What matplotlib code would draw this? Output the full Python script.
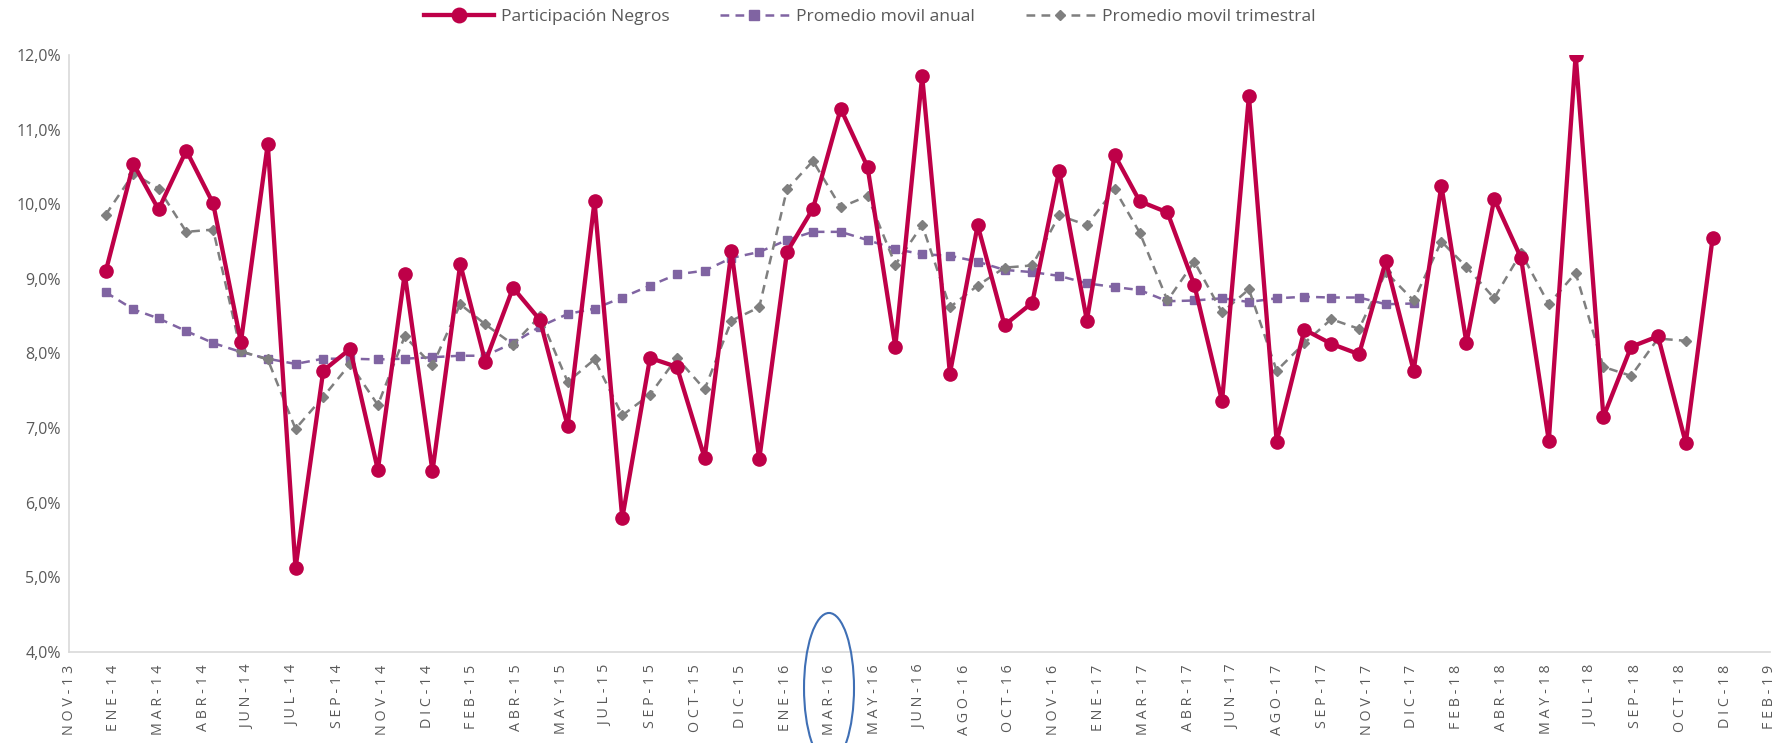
import numpy as np
import matplotlib.pyplot as plt
import matplotlib.dates as mdates
import pandas as pd
from matplotlib.patches import Ellipse

plt.rcParams['font.family'] = ['Open Sans', 'DejaVu Sans']

# datos mensuales ene-2014 .. dic-2018 (en %)
participacion = [9.10, 10.54, 9.93, 10.72, 10.01, 8.15, 10.81, 5.12, 7.77, 8.06,
                 6.44, 9.07, 6.42, 9.20, 7.89, 8.88, 8.45, 7.03, 10.04, 5.79,
                 7.94, 7.82, 6.60, 9.37, 6.58, 9.36, 9.94, 11.28, 10.50, 8.09,
                 11.72, 7.73, 9.72, 8.38, 8.68, 10.45, 8.44, 10.66, 10.04, 9.89,
                 8.92, 7.36, 11.45, 6.82, 8.32, 8.13, 7.99, 9.24, 7.77, 10.25,
                 8.14, 10.07, 9.28, 6.83, 12.00, 7.15, 8.09, 8.23, 6.80, 9.55]

prom_anual = [8.82, 8.59, 8.47, 8.30, 8.14, 8.02, 7.93, 7.86, 7.93, 7.93,
              7.92, 7.93, 7.95, 7.97, 7.97, 8.14, 8.36, 8.53, 8.60, 8.75,
              8.91, 9.06, 9.11, 9.28, 9.36, 9.52, 9.63, 9.63, 9.52, 9.40,
              9.33, 9.31, 9.23, 9.12, 9.09, 9.04, 8.94, 8.89, 8.85, 8.70,
              8.71, 8.74, 8.69, 8.74, 8.76, 8.75, 8.75, 8.66, 8.67]

prom_trimestral = [9.86, 10.41, 10.21, 9.63, 9.66, 8.03, 7.92, 6.99, 7.42, 7.86,
                   7.31, 8.23, 7.84, 8.66, 8.39, 8.12, 8.50, 7.62, 7.92, 7.17,
                   7.45, 7.94, 7.52, 8.44, 8.62, 10.20, 10.58, 9.96, 10.11, 9.19,
                   9.72, 8.62, 8.91, 9.15, 9.18, 9.85, 9.72, 10.20, 9.62, 8.71,
                   9.23, 8.55, 8.86, 7.77, 8.14, 8.46, 8.33, 9.09, 8.71, 9.50,
                   9.16, 8.74, 9.35, 8.66, 9.08, 7.82, 7.70, 8.20, 8.17]

etiquetas = ['NOV-13', 'ENE-14', 'MAR-14', 'ABR-14', 'JUN-14', 'JUL-14', 'SEP-14',
             'NOV-14', 'DIC-14', 'FEB-15', 'ABR-15', 'MAY-15', 'JUL-15', 'SEP-15',
             'OCT-15', 'DIC-15', 'ENE-16', 'MAR-16', 'MAY-16', 'JUN-16', 'AGO-16',
             'OCT-16', 'NOV-16', 'ENE-17', 'MAR-17', 'ABR-17', 'JUN-17', 'AGO-17',
             'SEP-17', 'NOV-17', 'DIC-17', 'FEB-18', 'ABR-18', 'MAY-18', 'JUL-18',
             'SEP-18', 'OCT-18', 'DIC-18', 'FEB-19']

meses = pd.date_range('2014-01-01', periods=len(participacion), freq='MS')
x = mdates.date2num(meses)

gris = '#595959'
fig = plt.figure(figsize=(17.79, 7.43), dpi=100)
ax = fig.add_axes([0.0388, 0.1225, 0.9561, 0.8035])

ax.plot(x, participacion, color='#BE0048', lw=3.1, marker='o', ms=9.5,
        label='Participación Negros', zorder=4)
ax.plot(x[:len(prom_anual)], prom_anual, color='#8064A2', lw=1.8, ls=(0, (3.5, 2.5)),
        marker='s', ms=6, label='Promedio movil anual', zorder=3)
ax.plot(x[:len(prom_trimestral)], prom_trimestral, color='#7F7F7F', lw=1.8,
        ls=(0, (3.5, 2.5)), marker='D', ms=5, label='Promedio movil trimestral', zorder=3)

# eje de fechas, marcas cada 50 dias
inicio = mdates.date2num(pd.Timestamp('2013-11-21'))
ticks = inicio + np.arange(len(etiquetas)) * 50
ax.set_xlim(ticks[0], ticks[-1])
ax.set_xticks(ticks)
ax.set_xticklabels([' '.join(e) for e in etiquetas], rotation=90, fontsize=10.3, color=gris)

ax.set_ylim(4, 12)
ax.set_yticks(np.arange(4, 13, 1))
ax.set_yticklabels([f'{v:.1f}%'.replace('.', ',') for v in np.arange(4, 13, 1)],
                   fontsize=11.5, color=gris)
ax.tick_params(length=0, pad=6)
ax.tick_params(axis='x', pad=9)

for s in ['top', 'right']:
    ax.spines[s].set_visible(False)
for s in ['left', 'bottom']:
    ax.spines[s].set_color('#D9D9D9')
    ax.spines[s].set_linewidth(1.2)

fig.legend(loc='center', bbox_to_anchor=(0.489, 0.977), ncol=3, frameon=False,
           fontsize=12.6, handlelength=3.95, handletextpad=0.4, columnspacing=2.9,
           labelcolor=gris, markerscale=1.1)

# marca azul sobre MAR-16
fig.patches.append(Ellipse((0.466, 0.074), 0.0281, 0.202, transform=fig.transFigure,
                           fill=False, edgecolor='#3F6FB5', lw=1.5))

plt.savefig('out.png', dpi=100)
